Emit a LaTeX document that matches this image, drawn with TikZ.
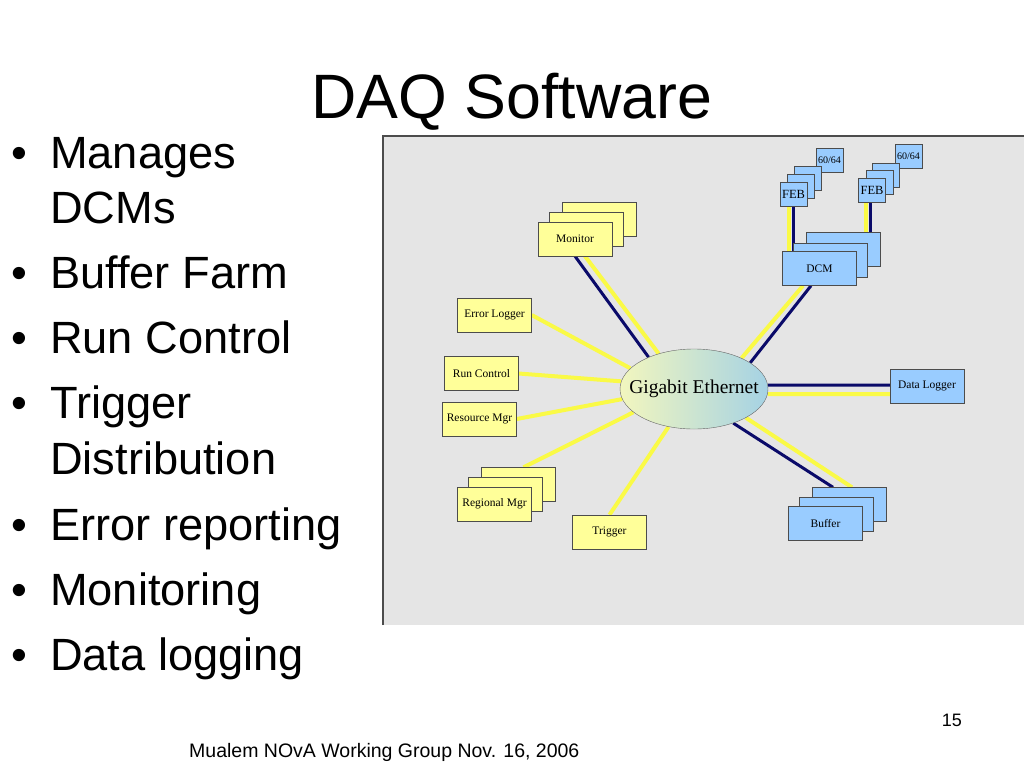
\documentclass[tikz,border=0pt]{standalone}
\usepackage{fontspec}
\setmainfont{Liberation Sans}
\newfontfamily\boxfont{Liberation Serif}
\usetikzlibrary{calc,shapes.geometric}
\pgfdeclarelayer{panel}
\pgfdeclarelayer{links}
\pgfsetlayers{panel,links,main}
\definecolor{boxyellow}{RGB}{255,255,153}
\definecolor{boxblue}{RGB}{153,204,255}
\definecolor{linkyellow}{RGB}{250,250,70}
\definecolor{linknavy}{RGB}{10,10,105}
\definecolor{panelgray}{RGB}{229,229,229}
\definecolor{ethyellow}{RGB}{242,246,190}
\definecolor{ethblue}{RGB}{165,210,228}
\tikzset{
    % boxes of the network: yellow for control, blue for the data path
    ybox/.style={draw=black!70,fill=boxyellow,minimum width=74,minimum height=34,inner sep=0,font=\boxfont\fontsize{11.5}{13}\selectfont}, bbox/.style={ybox,fill=boxblue},
    febbox/.style={bbox,minimum width=27,minimum height=24,font=\boxfont\fontsize{12.5}{13}\selectfont},
    % the two kinds of cable
    ylink/.style={linkyellow,line width=4}, nlink/.style={linknavy,line width=3},
    item/.style={anchor=base west,inner sep=0,font=\fontsize{45.2}{54}\selectfont}
    }
\begin{document}
\begin{tikzpicture}[x=1pt,y=-1pt]
    \useasboundingbox (0,0) rectangle (1024,768);
    % Title and bullets
    \node[anchor=base,inner sep=0,font=\fontsize{62.7}{72}\selectfont] (title) at (512,118) {DAQ Software};
    \foreach \y/\t [count=\i] in {168/Manages,288/Buffer Farm,353/Run Control,418/Trigger,540/Error reporting,605/Monitoring,670/Data logging}{
        \node[item] (dot\i) at (11,\y) {\textbullet};
        \node[item] (item\i) at (50,\y) {\t};
    }
    \node[item] (item1b) at (50,223) {DCMs};
    \node[item] (item4b) at (50,474) {Distribution};
    % The panel
    \begin{pgfonlayer}{panel}
    \fill[panelgray] (383,136) rectangle (1024,625);
    \draw[black!70,line width=1.5] (383,625) -- (383,136) -- (1024,136);
    \end{pgfonlayer}
    % The network
    \node[ellipse,draw=black!60,left color=ethyellow,right color=ethblue,minimum width=148,minimum height=80,inner sep=0,
        label={[font=\boxfont\fontsize{19.5}{21}\selectfont]center:Gigabit Ethernet}] (eth) at (694,389) {};
    \node[ybox] (mon3) at (599,219.5) {}; \node[ybox] (mon2) at (586,229.5) {};
    \node[ybox] (mon) at (575,239) {Monitor};
    \node[ybox] (elog) at (494.5,315) {Error Logger};
    \node[ybox] (rc) at (481.5,373.5) {Run Control};
    \node[ybox] (rm) at (479.5,419) {Resource Mgr};
    \node[ybox] (reg3) at (518.5,484.5) {}; \node[ybox] (reg2) at (505.5,494.5) {};
    \node[ybox] (reg) at (494.5,504) {Regional Mgr};
    \node[ybox] (trig) at (609.5,532) {Trigger};
    \node[bbox] (buf3) at (849,504.5) {}; \node[bbox] (buf2) at (836.5,514) {};
    \node[bbox] (buf) at (825.5,523.5) {Buffer};
    \node[bbox] (dcm3) at (843,249.5) {}; \node[bbox] (dcm2) at (830.5,260) {};
    \node[bbox] (dcm) at (819.5,268.5) {DCM};
    \node[bbox] (dlog) at (927,386) {Data Logger};
    % front end boards
    \node[febbox,font=\boxfont\fontsize{10}{11}\selectfont] (fa4) at (829.5,160.5) {60/64};
    \node[febbox] (fa3) at (808,178.5) {}; \node[febbox] (fa2) at (800.5,186) {};
    \node[febbox] (fa) at (793.5,194) {FEB};
    \node[febbox,font=\boxfont\fontsize{10}{11}\selectfont] (fb4) at (908.5,156) {60/64};
    \node[febbox] (fb3) at (886,175) {}; \node[febbox] (fb2) at (879.5,182) {};
    \node[febbox] (fb) at (872,190) {FEB};
    % cables
    \begin{pgfonlayer}{links}
    \draw[nlink] (mon.south) -- (eth.145);
    \draw[ylink] ([xshift=10]mon.south) -- (eth.135);
    \draw[ylink] (elog.east) -- (eth.162);
    \draw[ylink] (rc.east) -- (eth.174);
    \draw[ylink] (rm.east) -- (eth.188);
    \draw[ylink] ([xshift=5]reg3.north) -- (eth.201);
    \draw[ylink] (trig.north) -- (eth.236);
    \draw[nlink] ([xshift=-8.5]dcm.south) -- (eth.25);
    \draw[ylink] ([xshift=-16.5]dcm.south) -- (eth.33);
    \draw[nlink] ([yshift=1]dlog.west) -- (eth.3);
    \draw[ylink] ([yshift=-8]dlog.west) -- (eth.-4);
    \draw[nlink] (eth.319) -- ([xshift=-16]buf3.north);
    \draw[ylink] (eth.331) -- ([xshift=3]buf3.north);
    \draw[ylink,transform canvas={xshift=-4.5}] (fa.south) -- (fa.south |- dcm.north);
    \draw[nlink] (fa.south) -- (fa.south |- dcm.north);
    \draw[ylink,transform canvas={xshift=-6}] (fb.south) -- (fb.south |- dcm3.north);
    \draw[nlink,transform canvas={xshift=-2}] (fb.south) -- (fb.south |- dcm3.north);
    \end{pgfonlayer}
    % footer
    \node[anchor=base west,inner sep=0,font=\fontsize{19.5}{22}\selectfont] (foot) at (189,757) {Mualem NOvA Working Group Nov. 16, 2006};
    \node[anchor=base east,inner sep=0,font=\fontsize{18}{20}\selectfont] (pnum) at (962,726) {15};
\end{tikzpicture}
\end{document}
